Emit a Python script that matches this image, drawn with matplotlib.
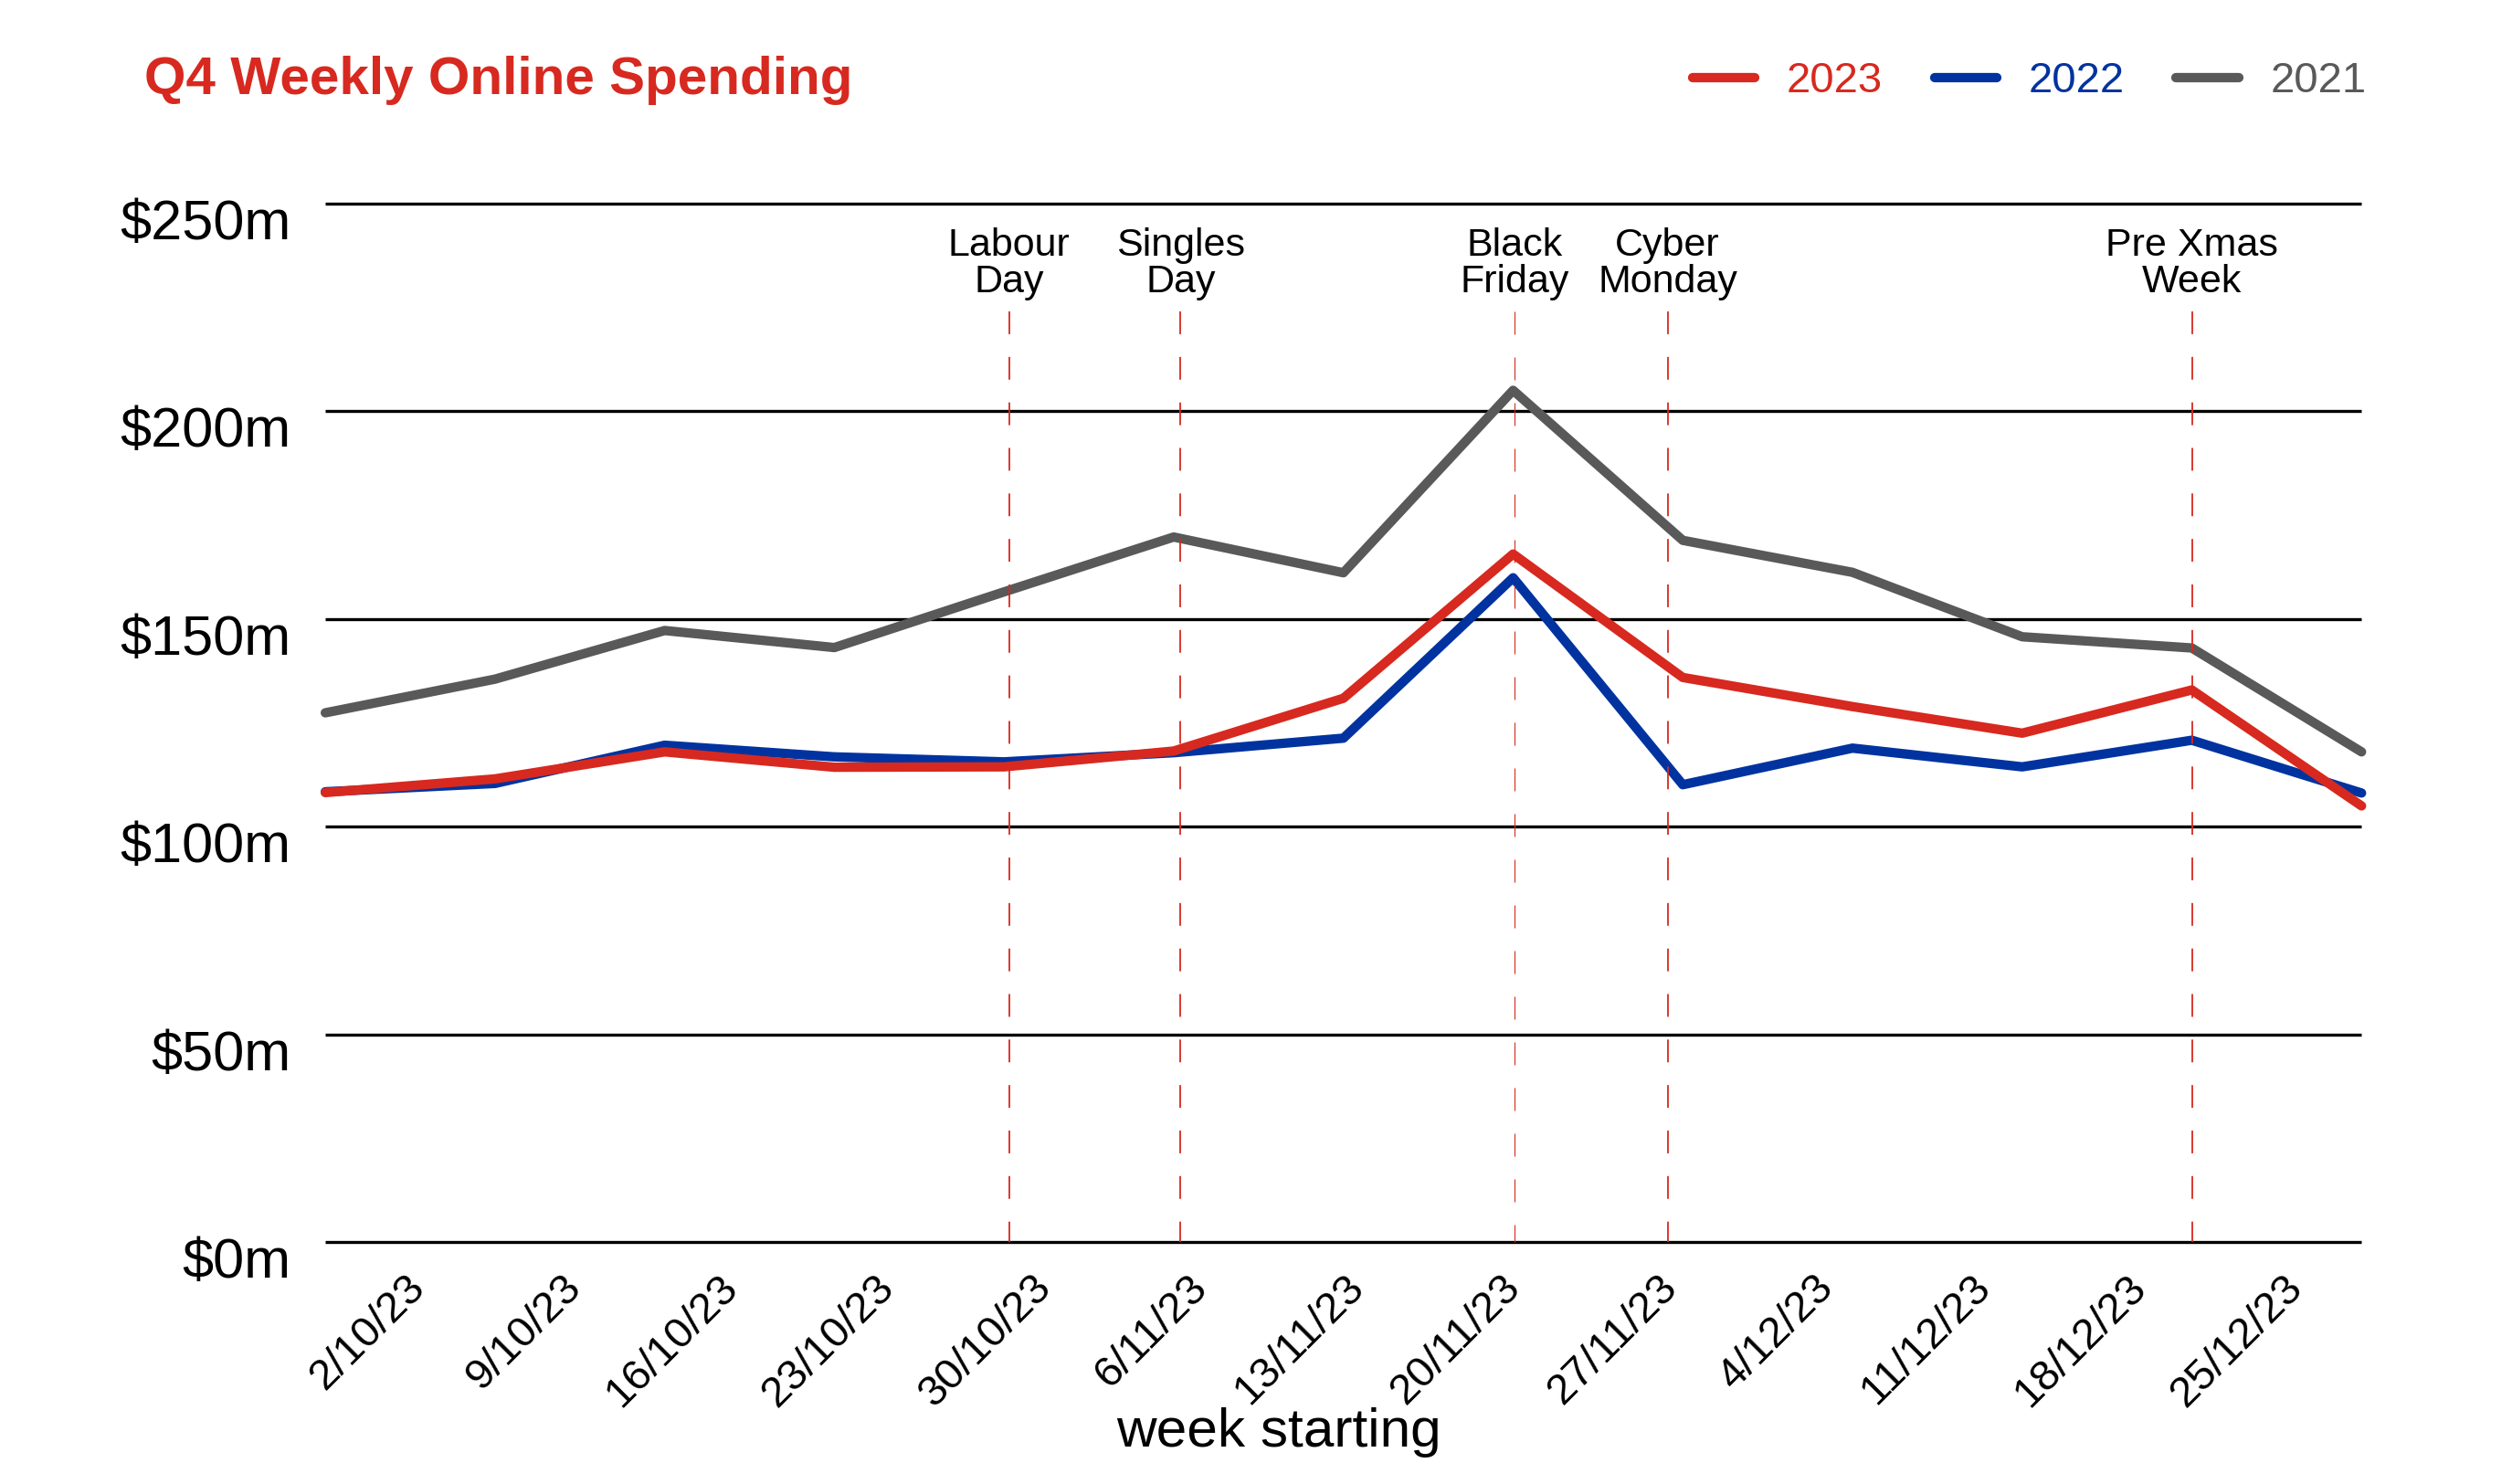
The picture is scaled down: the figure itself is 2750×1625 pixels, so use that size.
import numpy as np
import matplotlib.pyplot as plt
from matplotlib.transforms import ScaledTranslation

plt.rcParams["font.family"] = ["Liberation Sans", "DejaVu Sans"]

# ── Data ───────────────────────────────────────────────────────────────────────
weeks = ["2/10/23", "9/10/23", "16/10/23", "23/10/23", "30/10/23", "6/11/23",
         "13/11/23", "20/11/23", "27/11/23", "4/12/23", "11/12/23", "18/12/23",
         "25/12/23"]
spend_2023 = [108.2, 111.5, 118.0, 114.3, 114.4, 118.2, 130.9, 165.6, 135.9,
              128.9, 122.5, 132.9, 105.0]
spend_2022 = [108.4, 110.4, 119.6, 116.8, 115.6, 117.8, 121.3, 159.9, 110.1,
              118.9, 114.4, 120.8, 108.1]
spend_2021 = [127.4, 135.5, 147.2, 143.1, 156.5, 169.7, 161.1, 205.0, 168.9,
              161.2, 145.7, 143.0, 118.0]

events   = ["Labour\nDay", "Singles\nDay", "Black\nFriday", "Cyber\nMonday", "Pre Xmas\nWeek"]
# where each event sits, in weeks from 2/10/23
event_at = [4.03, 5.04, 7.01, 7.91, 11.0]

y_ticks = [0, 50, 100, 150, 200, 250]

RED  = "#d7291f"
BLUE = "#0033a0"
GREY = "#595959"

# ── Figure ─────────────────────────────────────────────────────────────────────
fig = plt.figure(figsize=(27.5, 16.25), dpi=100)
ax = fig.add_axes([0.1295, 0.1629, 0.8106, 0.7001])
x = np.arange(len(weeks))

ax.hlines(y_ticks, x[0], x[-1], color="black", lw=2.4, zorder=1, clip_on=False)

series = [("2021", spend_2021, GREY), ("2022", spend_2022, BLUE), ("2023", spend_2023, RED)]
handles = {}
for name, vals, col in series:
    handles[name], = ax.plot(x, vals, color=col, lw=7.4, solid_capstyle="round",
                             zorder=3, clip_on=False)

# event markers (Black Friday drawn thinner, as in the original)
for label, xe in zip(events, event_at):
    if "Friday" in label:
        lw, dash = 0.8, (0, (22.5, 22.5))
    else:
        lw, dash = 1.3, (0, (13.8, 13.8))
    ax.plot([xe, xe], [224, 0], color=RED, lw=lw, linestyle=dash,
            zorder=5, clip_on=False)
    ax.text(xe, 235.5, label, ha="center", va="center", fontsize=31,
            linespacing=1.0, zorder=6)

ax.set_xlim(x[0], x[-1])
ax.set_ylim(0, 250)
for s in ax.spines.values():
    s.set_visible(False)

ax.set_yticks(y_ticks)
ax.set_yticklabels([f"\\${v}m" for v in y_ticks], fontsize=44)
ax.tick_params(axis="y", length=0, pad=27)
for lab in ax.get_yticklabels():
    lab.set_transform(lab.get_transform() + ScaledTranslation(0, -0.17, fig.dpi_scale_trans))

tick_pos = np.linspace(0.55, 11.62, len(weeks))
ax.set_xticks(tick_pos)
ax.set_xticklabels(weeks, rotation=45, ha="right", va="center",
                   rotation_mode="anchor", fontsize=34)
ax.tick_params(axis="x", length=0, pad=31)

fig.text(0.509, 0.0254, "week starting", ha="center", va="baseline", fontsize=43.5)

fig.text(0.0575, 0.9366, "Q4 Weekly Online Spending", ha="left", va="baseline",
         fontsize=42, fontweight="bold", color=RED)

leg = fig.legend([handles["2023"], handles["2022"], handles["2021"]],
                 ["2023", "2022", "2021"], loc="center right",
                 bbox_to_anchor=(0.942, 0.945), ncol=3, frameon=False,
                 fontsize=34, handlelength=1.45, handletextpad=0.73,
                 columnspacing=1.2, borderpad=0, borderaxespad=0)
for txt, col in zip(leg.get_texts(), [RED, BLUE, GREY]):
    txt.set_color(col)

fig.savefig("out.png", dpi=100)
